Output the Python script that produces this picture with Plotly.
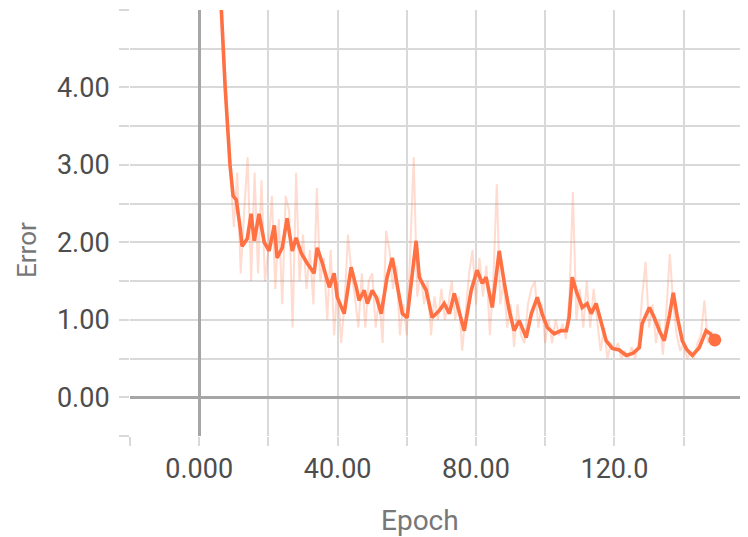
import plotly.graph_objects as go

# Smoothed error curve (epoch, value)
smooth_epoch = [6.1, 6.4, 7.5, 8.9, 9.8, 10.7, 11.8, 12.4, 13.9, 15.0, 15.9, 17.3, 18.8, 20.2,
                21.7, 22.5, 24.0, 25.4, 26.9, 28.0, 29.5, 31.2, 33.2, 34.1, 35.6, 37.6, 39.0,
                39.9, 41.9, 43.9, 45.4, 46.2, 47.7, 48.6, 50.0, 51.2, 52.6, 54.3, 55.8, 57.2,
                58.7, 60.1, 61.6, 62.7, 63.6, 65.6, 67.3, 69.4, 70.8, 72.3, 73.7, 75.1, 76.6,
                78.6, 80.3, 81.8, 82.9, 84.7, 86.7, 88.2, 89.6, 91.0, 92.5, 94.5, 96.0, 97.7,
                99.1, 100.6, 102.6, 104.6, 106.1, 106.9, 107.8, 109.2, 110.7, 112.1, 113.3,
                114.7, 116.2, 117.6, 119.4, 121.4, 123.4, 125.4, 127.2, 128.0, 130.1, 131.5,
                133.0, 134.4, 135.8, 137.0, 138.2, 139.6, 141.0, 142.5, 144.5, 146.5, 147.7,
                149.0]
smooth_error = [5.2, 5.0, 4.0, 3.0, 2.6, 2.55, 2.2, 1.95, 2.05, 2.37, 2.02, 2.37, 2.0, 1.89,
                2.22, 1.8, 1.93, 2.31, 1.89, 2.06, 1.86, 1.73, 1.6, 1.93, 1.73, 1.42, 1.6,
                1.29, 1.08, 1.68, 1.42, 1.25, 1.38, 1.21, 1.38, 1.29, 1.08, 1.55, 1.8, 1.47,
                1.08, 1.03, 1.55, 2.02, 1.55, 1.38, 1.03, 1.12, 1.21, 1.08, 1.34, 1.12, 0.86,
                1.38, 1.64, 1.47, 1.55, 1.16, 1.89, 1.47, 1.12, 0.86, 0.99, 0.77, 1.08, 1.29,
                1.08, 0.9, 0.82, 0.86, 0.86, 1.03, 1.55, 1.34, 1.16, 1.21, 1.08,
                1.21, 0.95, 0.73, 0.63, 0.61, 0.54, 0.57, 0.64, 0.95, 1.16, 1.03,
                0.86, 0.73, 1.03, 1.35, 1.03, 0.73, 0.61, 0.54, 0.64, 0.86, 0.82,
                0.74]

# Raw (unsmoothed) error per epoch
raw_epoch = list(range(5, 150))
raw_error = [6.0, 5.2, 4.6, 3.6, 2.9, 2.2, 2.9, 1.6, 2.4, 3.1,
             1.5, 2.9, 1.6, 2.8, 1.5, 1.9, 2.6, 1.4, 2.3, 1.2,
             2.6, 2.4, 0.9, 2.9, 1.5, 2.1, 1.4, 1.9, 1.2, 2.7,
             1.5, 1.8, 1.0, 1.9, 0.8, 1.5, 0.7, 1.2, 2.1, 1.6,
             1.3, 0.9, 1.6, 0.9, 1.5, 1.6, 0.9, 1.3, 0.7, 2.15,
             1.9, 1.4, 1.7, 0.8, 1.2, 0.8, 1.9, 3.1, 1.3, 1.6,
             1.2, 1.5, 0.8, 1.3, 1.0, 1.4, 1.0, 1.2, 1.5, 1.0,
             1.3, 0.6, 1.1, 1.6, 1.9, 1.2, 1.8, 1.3, 1.7, 0.8,
             1.5, 2.75, 1.2, 1.5, 0.9, 1.2, 0.65, 1.2, 0.8, 0.7,
             1.2, 1.4, 1.5, 0.9, 1.2, 0.7, 1.0, 0.7, 1.0, 0.8,
             0.95, 0.75, 1.3, 2.65, 1.0, 1.4, 0.9, 1.5, 0.9, 1.4,
             1.0, 0.6, 0.9, 0.5, 0.7, 0.6, 0.7, 0.5, 0.6, 0.5,
             0.65, 0.5, 0.7, 1.3, 1.75, 0.9, 1.2, 0.7, 1.0, 0.55,
             1.1, 1.85, 1.2, 0.8, 0.6, 0.7, 0.5, 0.6, 0.5, 0.7,
             0.8, 1.25, 0.7, 0.85, 0.7]

x_tickvals = [-20, 0, 20, 40, 60, 80, 100, 120, 140]
x_ticktext = ["", "0.000", "", "40.00", "", "80.00", "", "120.0", ""]
y_tickvals = [-0.5, 0, 0.5, 1, 1.5, 2, 2.5, 3, 3.5, 4, 4.5, 5]
y_ticktext = ["", "0.00", "", "1.00", "", "2.00", "", "3.00", "", "4.00", "", ""]

ORANGE = "#ff7043"
GRID = "#d9d9d9"
ZERO = "#a6a6a6"
FONT = "Roboto, Arial, sans-serif"

fig = go.Figure()
fig.add_trace(go.Scatter(x=raw_epoch, y=raw_error, mode="lines",
                         line=dict(color="rgba(255,112,67,0.25)", width=2),
                         hoverinfo="skip", showlegend=False))
fig.add_trace(go.Scatter(x=smooth_epoch, y=smooth_error, mode="lines",
                         line=dict(color=ORANGE, width=3.6),
                         showlegend=False))
fig.add_trace(go.Scatter(x=[smooth_epoch[-1]], y=[smooth_error[-1]], mode="markers",
                         marker=dict(color=ORANGE, size=13),
                         showlegend=False))

# The page body adds an 8px offset; the figure is sized so the plot area
# lands where it sits in the reference.
fig.update_layout(
    width=740, height=529,
    margin=dict(l=122, r=0, t=2, b=101),
    paper_bgcolor="white", plot_bgcolor="white",
    font=dict(family=FONT, size=27, color="#4d4d4d"),
    xaxis=dict(range=[-20, 158.6], tickmode="array", tickvals=x_tickvals, ticktext=x_ticktext,
               showgrid=True, gridcolor=GRID, gridwidth=2,
               zeroline=True, zerolinecolor=ZERO, zerolinewidth=3,
               ticks="outside", ticklen=9, tickwidth=2, tickcolor=GRID,
               showline=False, tickfont=dict(size=27, color="#4d4d4d")),
    yaxis=dict(range=[-0.5, 5.0], tickmode="array", tickvals=y_tickvals, ticktext=y_ticktext,
               showgrid=True, gridcolor=GRID, gridwidth=2,
               zeroline=True, zerolinecolor=ZERO, zerolinewidth=3,
               ticks="outside", ticklen=10, tickwidth=2, tickcolor=GRID,
               ticklabelstandoff=4,
               showline=False, tickfont=dict(size=27, color="#4d4d4d")),
    annotations=[
        dict(text="Epoch", xref="paper", yref="paper",
             x=(420 - 130) / 618, xanchor="center",
             y=-(520 - 436) / 426, yanchor="middle",
             showarrow=False, font=dict(size=28, color="#777777", family=FONT)),
        dict(text="Error", xref="paper", yref="paper",
             x=-(130 - 27) / 618, xanchor="center",
             y=(436 - 250) / 426, yanchor="middle",
             showarrow=False, textangle=-90, font=dict(size=26, color="#777777", family=FONT)),
    ],
)

fig.write_html("out.html")
